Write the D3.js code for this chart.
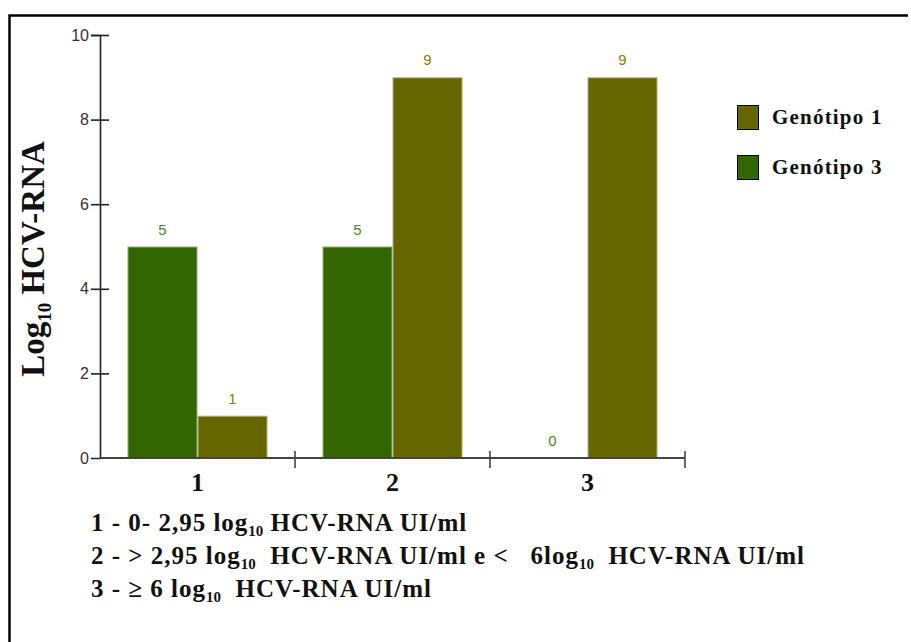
<!DOCTYPE html>
<html><head><meta charset="utf-8">
<script src="https://cdn.jsdelivr.net/npm/d3@7"></script>
<style>
html,body{margin:0;padding:0;background:#fff;overflow:hidden;}
svg{display:block;}
text{white-space:pre;}
</style></head>
<body>
<svg id="chart" width="911" height="642"></svg>
<script>
// ---- data ----
const categories = ["1", "2", "3"];
const seriesNames = ["Genótipo 3", "Genótipo 1"];
const genotipo3 = [5, 5, 0];
const genotipo1 = [1, 9, 9];
const yTicks = [0, 2, 4, 6, 8, 10];
const footnotes = [
  ["1 - 0- 2,95 log", "10", " HCV-RNA UI/ml"],
  ["2 - > 2,95 log", "10", "  HCV-RNA UI/ml e <   6log", "10", "  HCV-RNA UI/ml"],
  ["3 - ≥ 6 log", "10", "  HCV-RNA UI/ml"]
];

const barColors = {"Genótipo 3": "#336600", "Genótipo 1": "#666600"};
const strokeColors = {"Genótipo 3": "#8fb070", "Genótipo 1": "#b0b080"};
const labelColors = {"Genótipo 3": "#4b8a1e", "Genótipo 1": "#858000"};

const svg = d3.select("#chart");

// frame (only top & left visible)
svg.append("path").attr("d", "M9.5,642V15.5H908")
  .attr("fill", "none").attr("stroke", "#000").attr("stroke-width", 2.5);

const pLeft = 100, pRight = 685, pTop = 35, pBottom = 458;

const x0 = d3.scaleBand().domain(categories).range([pLeft, pRight])
  .paddingInner(55 / 195).paddingOuter(27.5 / 195);
const x1 = d3.scaleBand().domain(seriesNames).range([0, x0.bandwidth()]);
const y = d3.scaleLinear().domain([0, 10]).range([pBottom, pTop]);

const rows = categories.map((c, i) => ({cat: c, vals: [
  {s: "Genótipo 3", v: genotipo3[i]},
  {s: "Genótipo 1", v: genotipo1[i]}
]}));

// bars
const g = svg.append("g");
const grp = g.selectAll("g.grp").data(rows).join("g")
  .attr("transform", d => `translate(${x0(d.cat)},0)`);
grp.selectAll("rect").data(d => d.vals.filter(v => v.v > 0)).join("rect")
  .attr("x", d => x1(d.s) + 0.5)
  .attr("y", d => y(d.v) + 0.5)
  .attr("width", x1.bandwidth() - 1)
  .attr("height", d => y(0) - y(d.v) - 0.5)
  .attr("fill", d => barColors[d.s])
  .attr("stroke", d => strokeColors[d.s])
  .attr("stroke-width", 1);
grp.selectAll("text").data(d => d.vals).join("text")
  .attr("x", d => x1(d.s) + x1.bandwidth() / 2)
  .attr("y", d => y(d.v) - 12)
  .attr("text-anchor", "middle")
  .attr("font-family", "Liberation Sans, Arial, sans-serif")
  .attr("font-size", 15)
  .attr("fill", d => labelColors[d.s])
  .text(d => d.v);

// y axis
const yAxis = svg.append("g").attr("transform", `translate(${pLeft},0)`)
  .call(d3.axisLeft(y).tickValues(yTicks).tickSize(9).tickPadding(2));
yAxis.select(".domain").attr("stroke", "#222").attr("stroke-width", 1.6);
yAxis.selectAll(".tick line").attr("x1", 9).attr("stroke", "#222").attr("stroke-width", 1.6);
yAxis.selectAll(".tick").filter(d => d === 0).select("line").remove();
yAxis.selectAll(".tick text").attr("font-family", "Liberation Sans, Arial, sans-serif")
  .attr("font-size", 16).attr("fill", "#333");

// x axis
const xAxis = svg.append("g").attr("transform", `translate(0,${pBottom})`)
  .call(d3.axisBottom(x0).tickSize(0).tickPadding(0));
xAxis.select(".domain").attr("stroke", "#444").attr("stroke-width", 2)
  .attr("d", `M${pLeft},0H${pRight}`);
xAxis.selectAll(".tick text").attr("font-family", "Liberation Serif, Times New Roman, serif")
  .attr("font-weight", "bold").attr("font-size", 26).attr("fill", "#111")
  .attr("dy", 0).attr("y", 33);
const bounds = categories.map((c, i) => pLeft + x0.step() * (i + 1));
xAxis.selectAll("line.sep").data(bounds).join("line").attr("class", "sep")
  .attr("x1", d => d).attr("x2", d => d).attr("y1", -7).attr("y2", 10)
  .attr("stroke", "#444").attr("stroke-width", 1.6);

// y title
const yt = svg.append("text")
  .attr("transform", "translate(44,259) rotate(-90)")
  .attr("text-anchor", "middle")
  .attr("font-family", "Liberation Serif, Times New Roman, serif")
  .attr("font-weight", "bold").attr("font-size", 33).attr("fill", "#111");
yt.append("tspan").text("Log");
yt.append("tspan").attr("font-size", 19).attr("dy", 7).text("10");
yt.append("tspan").attr("dy", -7).text(" HCV-RNA");

// legend
const legendItems = ["Genótipo 1", "Genótipo 3"];
const lg = svg.append("g").selectAll("g").data(legendItems).join("g")
  .attr("transform", (d, i) => `translate(737,${105 + i * 50})`);
lg.append("rect").attr("x", 0.5).attr("y", 0.5).attr("width", 21).attr("height", 24)
  .attr("fill", d => barColors[d]).attr("stroke", "#000").attr("stroke-width", 1);
lg.append("text").attr("x", 35).attr("y", 19)
  .attr("font-family", "Liberation Serif, Times New Roman, serif")
  .attr("font-weight", "bold").attr("font-size", 21).attr("letter-spacing", 1.2)
  .attr("fill", "#111")
  .text(d => d);

// footnotes
footnotes.forEach((parts, i) => {
  const t = svg.append("text").attr("x", 91).attr("y", 536 + i * 33)
    .attr("font-family", "Liberation Serif, Times New Roman, serif")
    .attr("font-weight", "bold").attr("font-size", 25).attr("letter-spacing", 1.0)
    .attr("fill", "#111");
  parts.forEach(p => {
    if (p === "10") t.append("tspan").attr("font-size", 15).attr("letter-spacing", 0).attr("dy", 5).text(p);
    else t.append("tspan").attr("dy", t.selectAll("tspan").size() ? -5 : 0).text(p);
  });
});
</script>
</body></html>
